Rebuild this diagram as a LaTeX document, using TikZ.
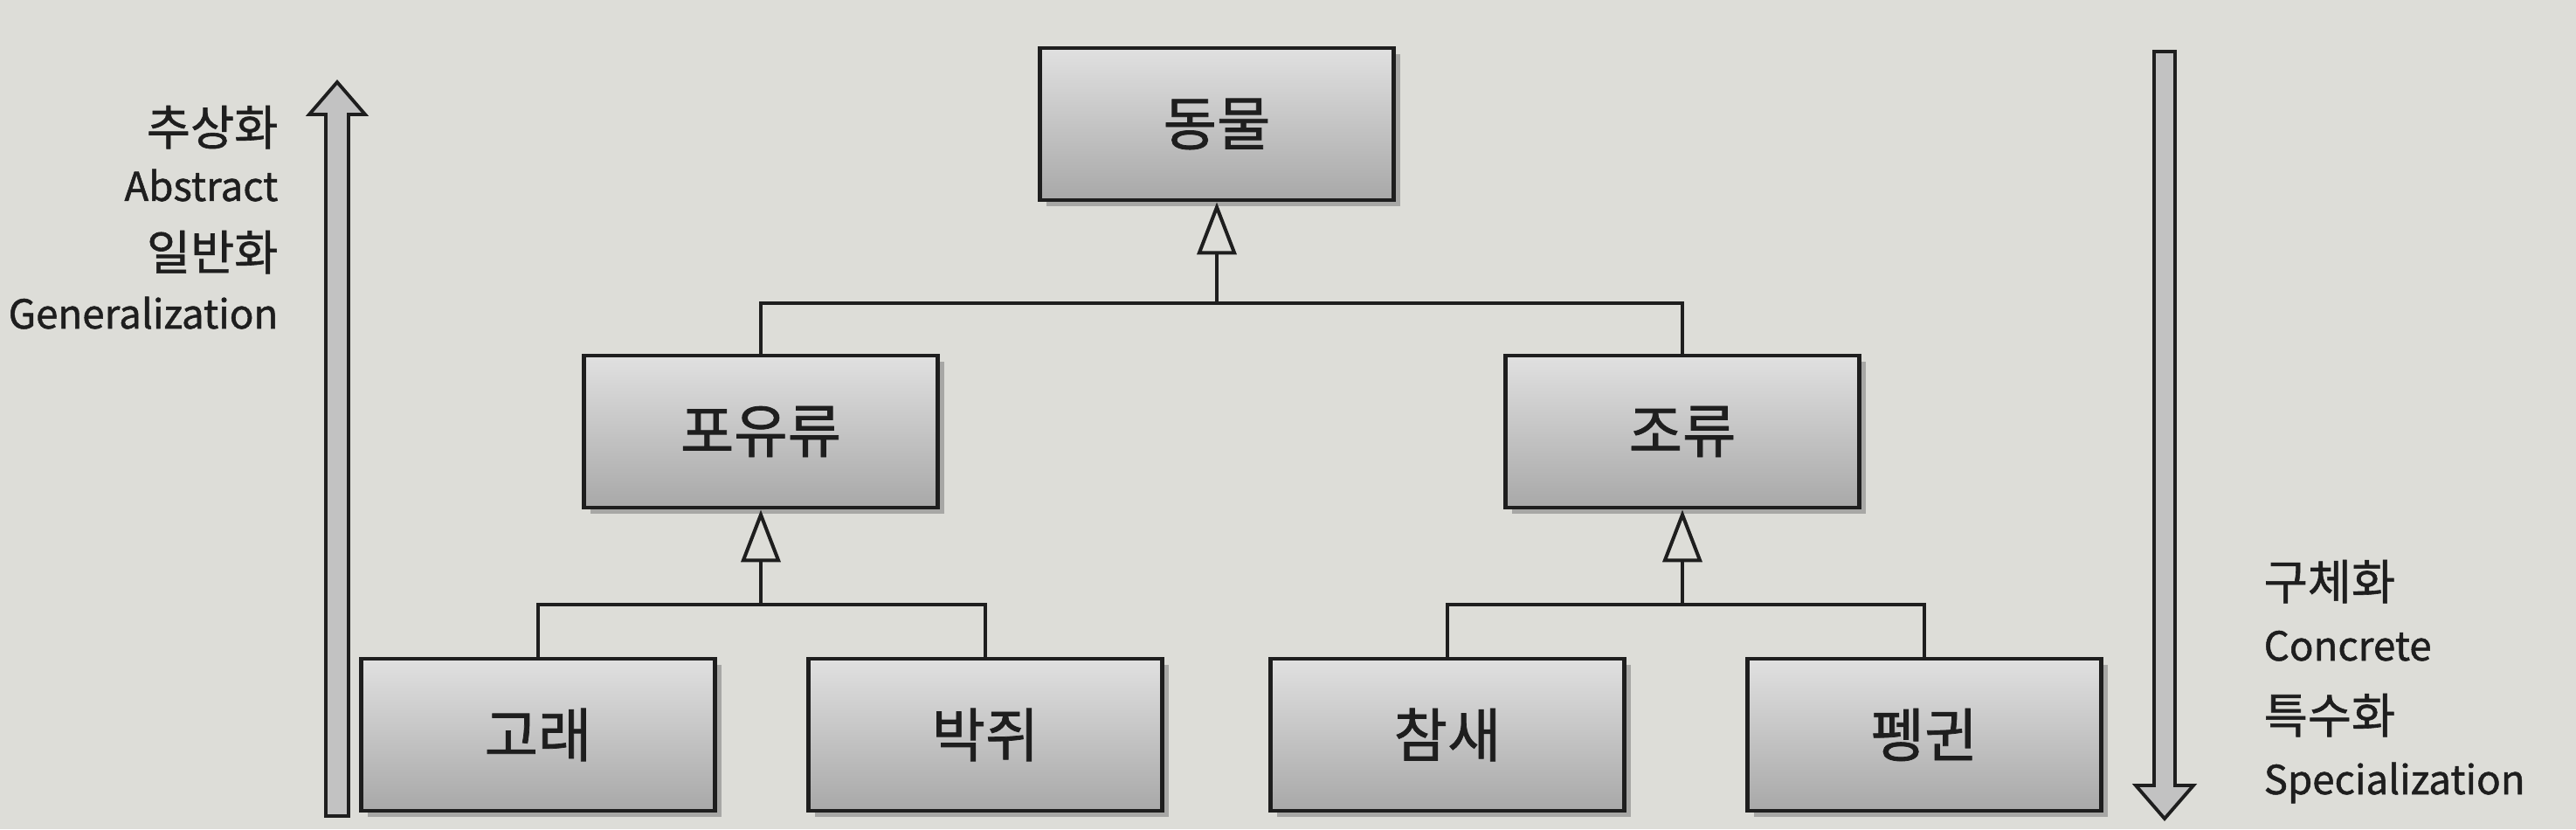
\documentclass[tikz,border=0pt]{standalone}
\usepackage{fontspec}
\setmainfont{Noto Sans CJK KR}[FakeBold=1.1]
\usepackage{tikz}
\usetikzlibrary{arrows.meta,shadows}
\usetikzlibrary{positioning}
\definecolor{paper}{RGB}{221,221,216}
\definecolor{ink}{RGB}{30,30,30}
\tikzset{
    cls/.style={
           rectangle,
           draw=ink, line width=1.4pt,
           minimum width=4.05cm,
           minimum height=1.74cm,
           top color=black!12, bottom color=black!34,
           drop shadow={shadow xshift=0.07cm, shadow yshift=-0.07cm,
                        fill=black!55, opacity=0.5},
           font=\fontsize{19}{22}\selectfont,
           text=ink,
           text centered,
           },
    link/.style={draw=ink, line width=1.15pt},
    gen/.style={link, -{Triangle[open, length=0.6cm, width=0.45cm]}},
    kor/.style={font=\fontsize{15.5}{18}\selectfont, text=ink, inner sep=0pt},
    lat/.style={font=\fontsize{13}{16}\selectfont, text=ink, inner sep=0pt},
    bigarrow/.style={draw=ink, line width=1.1pt, fill=black!24, line join=miter},
}
\begin{document}
\begin{tikzpicture}

 % paper and size of the picture
 \fill[paper] (0,0) rectangle (29.49,9.49);
 \useasboundingbox (0,0) rectangle (29.49,9.49);

 % top class
 \node[cls] (Animal) at (13.93,8.07) {동물};

 % second level
 \node[cls,
  below of=Animal,
  node distance=3.52cm,
  xshift=-5.22cm] (Mammal) {포유류};
 \node[cls,
  below of=Animal,
  node distance=3.52cm,
  xshift=5.33cm] (Bird) {조류};

 % leaves
 \node[cls, below of=Mammal, node distance=3.47cm, xshift=-2.55cm] (Whale) {고래};
 \node[cls, below of=Mammal, node distance=3.47cm, xshift=2.57cm] (Bat) {박쥐};
 \node[cls, below of=Bird, node distance=3.47cm, xshift=-2.69cm] (Sparrow) {참새};
 \node[cls, below of=Bird, node distance=3.47cm, xshift=2.77cm] (Penguin) {펭귄};

 % where the branches meet
 \path (Animal.south) ++(0,-1.16) coordinate (AnimalBus);
 \path (Mammal.south) ++(0,-1.09) coordinate (MammalBus);
 \path (Bird.south) ++(0,-1.09) coordinate (BirdBus);

 % generalization paths
 \draw[link] (Mammal.north) |- (AnimalBus) -| (Bird.north);
 \draw[gen] (AnimalBus) -- (Animal.south);
 \draw[link] (Whale.north) |- (MammalBus) -| (Bat.north);
 \draw[gen] (MammalBus) -- (Mammal.south);
 \draw[link] (Sparrow.north) |- (BirdBus) -| (Penguin.north);
 \draw[gen] (BirdBus) -- (Bird.south);

 % left: upwards
 \draw[bigarrow] (3.73,0.15) -- (3.73,8.18) -- (3.54,8.18) -- (3.86,8.55)
   -- (4.18,8.18) -- (3.99,8.18) -- (3.99,0.15) -- cycle;
 \node[kor, anchor=base east] (UpKo1) at (3.19,7.83) {추상화};
 \node[lat, anchor=base east] (UpEn1) at (3.19,7.19) {Abstract};
 \node[kor, anchor=base east] (UpKo2) at (3.19,6.40) {일반화};
 \node[lat, anchor=base east] (UpEn2) at (3.19,5.73) {Generalization};

 % right: downwards
 \draw[bigarrow] (24.66,8.90) -- (24.66,0.50) -- (24.45,0.50) -- (24.78,0.12)
   -- (25.11,0.50) -- (24.90,0.50) -- (24.90,8.90) -- cycle;
 \node[kor, anchor=base west] (DownKo1) at (25.91,2.63) {구체화};
 \node[lat, anchor=base west] (DownEn1) at (25.91,1.93) {Concrete};
 \node[kor, anchor=base west] (DownKo2) at (25.91,1.10) {특수화};
 \node[lat, anchor=base west] (DownEn2) at (25.91,0.40) {Specialization};

\end{tikzpicture}
\end{document}
